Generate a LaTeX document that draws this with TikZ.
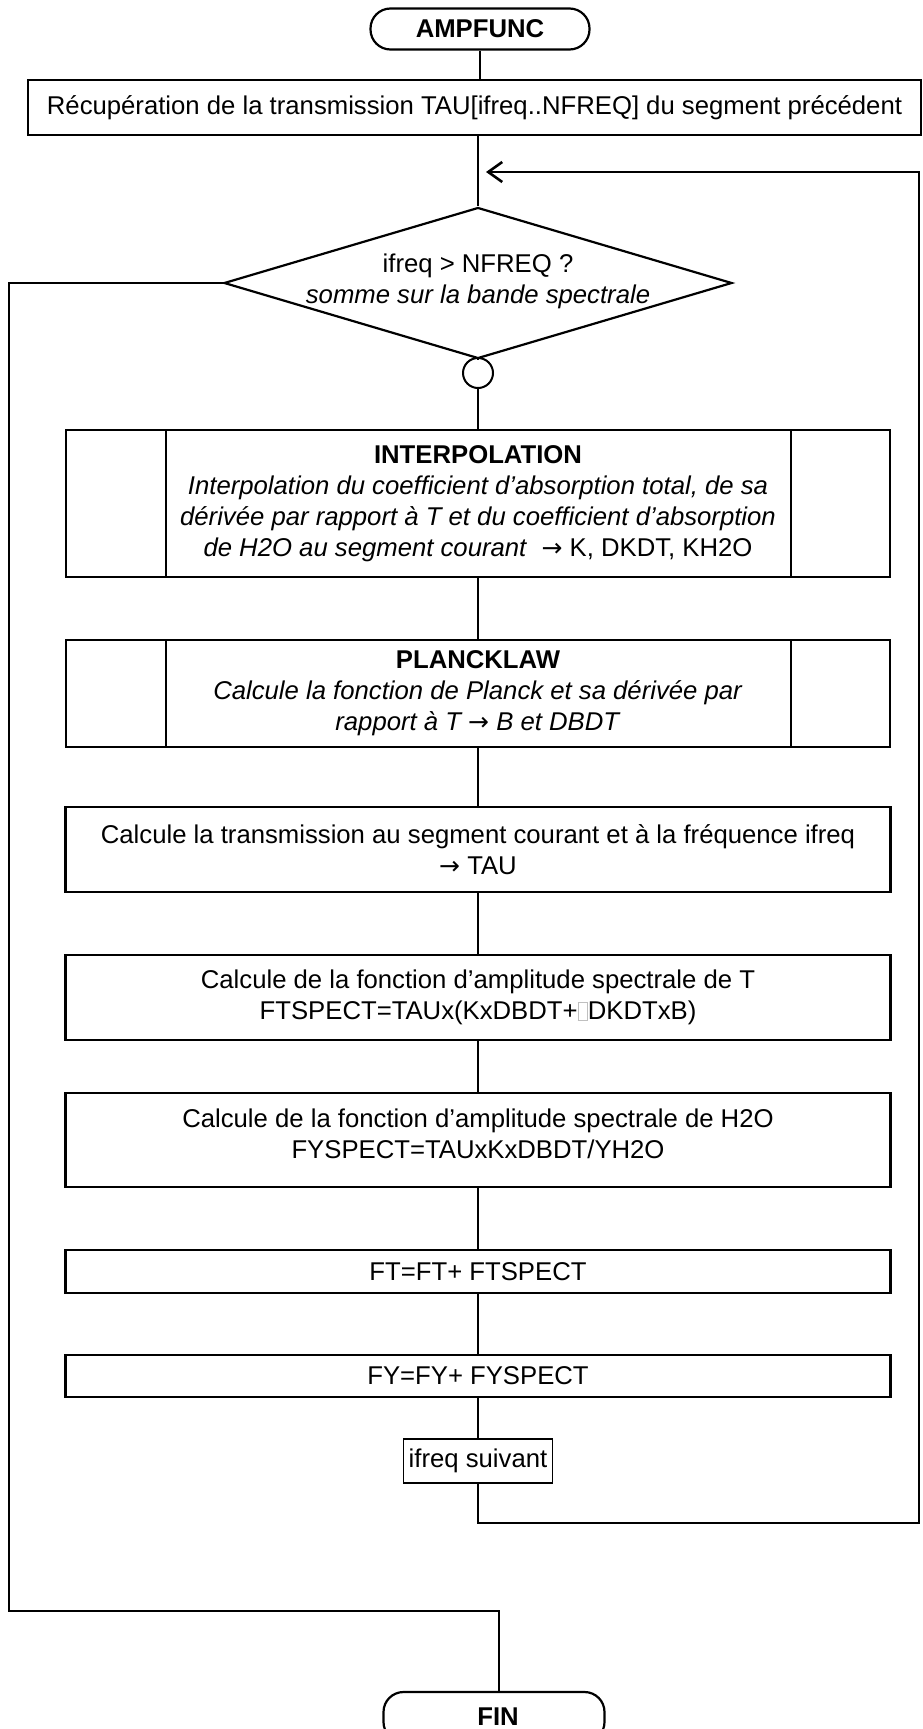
\documentclass[tikz,border=0pt]{standalone}
\usepackage{fontspec}
\setmainfont{Liberation Sans}
\newfontfamily\arrowfont{DejaVu Sans}
\newcommand{\rarr}{{\arrowfont\fontsize{25pt}{31pt}\selectfont →}}
\usetikzlibrary{arrows.meta,shapes.geometric}
\begin{document}
\begin{tikzpicture}[x=1pt,y=-1pt,
  font=\fontsize{25.7pt}{31pt}\selectfont,
  conn/.style={line width=2.1pt},
  procbox/.style={draw, line width=2.4pt, inner sep=0pt, align=center},
  subproc/.style={procbox, path picture={
    \draw[line width=2pt] ([xshift=100pt]path picture bounding box.north west) -- ([xshift=100pt]path picture bounding box.south west)
      ([xshift=-99pt]path picture bounding box.north east) -- ([xshift=-99pt]path picture bounding box.south east);}},
  term/.style={draw, line width=2.2pt, rounded corners=20pt, minimum width=219pt, minimum height=41pt, inner sep=0pt,
    font=\fontsize{25.7pt}{31pt}\selectfont\bfseries},
  txt/.style={align=center, inner sep=0pt}]
\useasboundingbox (0,0) rectangle (922,1729);

\node[term] (start) at (480,29) {AMPFUNC};
\node[procbox, minimum width=893pt, minimum height=55pt] (recup) at (474.5,107.5)
  {Récupération de la transmission TAU[ifreq..NFREQ] du segment précédent};
\node[diamond, draw, line width=2.2pt, minimum width=508pt, minimum height=151pt, inner sep=0pt] (dec) at (478,283) {};
\node[txt] (dectext) at (478,281) {ifreq > NFREQ ?\\\textit{somme sur la bande spectrale}};
\node[circle, draw, line width=2pt, minimum size=30pt, inner sep=0pt] (join) at (478,373) {};
\node[subproc, minimum width=824pt, minimum height=147pt] (interp) at (478,503.5)
  {\textbf{INTERPOLATION}\\
   \textit{Interpolation du coefficient d’absorption total, de sa}\\
   \textit{dérivée par rapport à T et du coefficient d’absorption}\\
   \textit{de H2O au segment courant}\ \ \rarr\ K, DKDT, KH2O};
\node[subproc, minimum width=824pt, minimum height=107pt] (planck) at (478,693.5)
  {\textbf{PLANCKLAW}\\
   \textit{Calcule la fonction de Planck et sa dérivée par}\\
   \textit{rapport à T \rarr\ B et DBDT}};
\node[procbox, minimum width=825pt, minimum height=85pt] (trans) at (478,849.5)
  {Calcule la transmission au segment courant et à la fréquence ifreq\\\rarr\ TAU};
\node[procbox, minimum width=825pt, minimum height=85pt] (ftsp) at (478,997.5)
  {Calcule de la fonction d’amplitude spectrale de T\\
   FTSPECT=TAUx(KxDBDT+{\color{black!25}\fboxsep=0pt\fboxrule=0.6pt\fbox{\rule{0pt}{17pt}\hspace{9pt}}}DKDTxB)};
\node[procbox, minimum width=825pt, minimum height=94pt] (fysp) at (478,1140) {};
\node[txt] (fyspt) at (478,1134)
  {Calcule de la fonction d’amplitude spectrale de H2O\\FYSPECT=TAUxKxDBDT/YH2O};
\node[procbox, minimum width=825pt, minimum height=43pt] (ft) at (478,1271.5) {FT=FT+ FTSPECT};
\node[procbox, minimum width=825pt, minimum height=42pt] (fy) at (478,1376) {FY=FY+ FYSPECT};
\node[procbox, line width=1.8pt, minimum width=149pt, minimum height=44pt] (next) at (478,1461) {ifreq suivant};
\node[term, minimum height=50pt, minimum width=221pt] (fin) at (494,1717) {\hspace*{8pt}FIN};

\coordinate (loopR) at (919,1523);
\coordinate (loopin) at (486,172);
\coordinate (exitL) at (9,1611);

\draw[conn] (start.south) -- (start.south |- recup.north);
\draw[conn] (dec.north |- recup.south) -- (dec.north);
\draw[conn] (dec.south) -- (join.north);
\draw[conn] (join.south) -- (interp.north);
\draw[conn] (interp.south) -- (planck.north);
\draw[conn] (planck.south) -- (trans.north);
\draw[conn] (trans.south) -- (ftsp.north);
\draw[conn] (ftsp.south) -- (fysp.north);
\draw[conn] (fysp.south) -- (ft.north);
\draw[conn] (ft.south) -- (fy.north);
\draw[conn] (fy.south) -- (next.north);
\draw[conn, -{Straight Barb[length=14pt,width=20pt,line width=2.6pt]}] (next.south) |- (loopR) -- (loopR |- loopin) -- (loopin);
\draw[conn] (dec.west) -| (exitL) -| ([xshift=5pt]fin.north);
\end{tikzpicture}
\end{document}
